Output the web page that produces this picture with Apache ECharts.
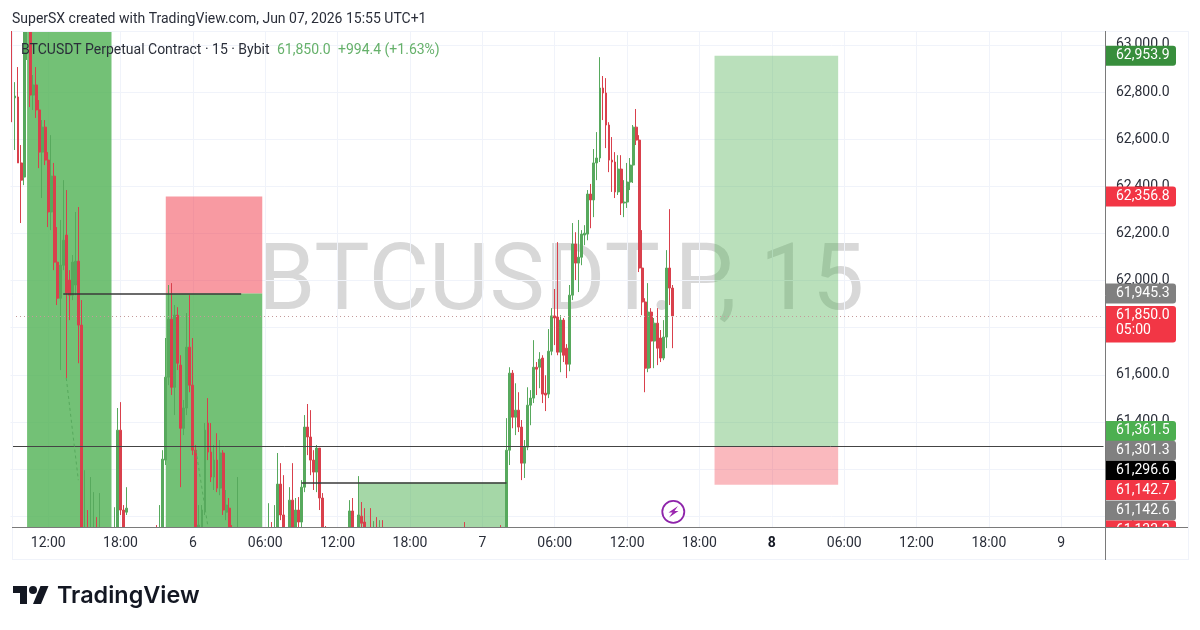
<!DOCTYPE html>
<html>
<head>
<meta charset="utf-8">
<title>BTCUSDT.P 15m</title>
<script src="https://cdn.jsdelivr.net/npm/echarts@6/dist/echarts.min.js"></script>
<style>html,body{margin:0;padding:0;background:#fff}#chart{width:1200px;height:630px}</style>
</head>
<body>
<div id="chart"></div>
<script>
// 15-minute candles, oldest first, starting Jun 5 09:00
const opens = [
63106,62775,62779,62499,62439,63080,63097,62787,62830,62724,
62545,62651,62511,62291,62443,62078,61925,62065,62193,62002,
61938,61981,62082,61811,60898,60898,60864,60877,60898,60877,
60877,60898,60877,60898,60877,60898,61365,61026,61017,60920,
60877,60907,60864,60847,60877,60907,60898,60907,60920,60898,
60920,61238,61590,61836,61547,61853,61641,61373,61459,61717,
61556,61280,60898,60898,61026,61395,61272,61166,61238,61119,
61268,61017,61034,60920,60877,60898,60920,60877,60856,60877,
60907,60898,60920,60877,60907,60920,60941,60920,60898,61136,
61005,60877,60920,61068,60898,61026,60975,61123,61378,61336,
61238,61187,61289,61077,60898,60877,60907,60898,60877,60898,
60920,60898,60898,61022,60898,60898,61000,60975,60898,60920,
60898,60920,60898,60920,60898,60907,60877,60856,60877,60898,
60885,60864,60898,60920,60898,60877,60907,60885,60920,60898,
60932,60907,60877,60898,60920,60898,60885,60907,60898,60920,
60907,60898,60920,60898,60907,60920,60907,60885,60898,60920,
60907,60932,60920,60898,60898,61280,61607,61420,61450,61378,
61225,61293,61471,61501,61632,61632,61671,61522,61518,61700,
61850,61845,61696,61832,61713,61645,61938,62155,62074,62099,
62193,62197,62367,62342,62499,62520,62817,62796,62660,62511,
62503,62376,62473,62329,62333,62418,62490,62651,62596,62053,
61909,61628,61866,61743,61819,61756,61671,61760,62053,61968
];
const highs = [
63106,62842,62906,62575,63106,63114,63114,62872,62906,62766,
62681,62681,62545,62617,62499,62227,62257,62426,62384,62044,
62108,62291,62312,61917,61195,61026,61166,61102,60996,61098,
60932,60920,60920,60932,61038,61459,61484,61047,61123,60932,
60920,60932,60898,60907,60920,60932,60932,60941,60962,61047,
61280,61756,61981,61989,61896,61887,61683,61493,61862,61938,
61756,61302,61047,61047,61395,61501,61395,61302,61352,61323,
61280,61111,61077,60962,60920,61166,60941,60907,60898,60920,
60932,60941,60941,60920,60941,61055,60975,61047,61268,61225,
61174,60941,61123,61225,61077,61081,61153,61429,61476,61450,
61280,61302,61289,61098,60958,60920,60932,60920,60920,60932,
60941,60932,61068,61077,60941,61170,61060,61034,60941,61034,
60979,60996,60983,60983,60932,60941,60907,60898,60920,60932,
60920,60907,60941,60941,60920,60920,60932,60932,60941,60941,
60945,60920,60907,60932,60941,60920,60932,60932,60941,60945,
60975,60932,60941,60932,60941,60945,60932,60920,60932,60941,
60941,60945,60962,60941,61416,61632,61620,61564,61526,61408,
61323,61547,61535,61747,61654,61696,61683,61598,61794,61883,
61964,62163,61853,61841,61730,61981,62244,62205,62257,62214,
62235,62384,62410,62558,62630,62948,62868,62859,62672,62609,
62545,62532,62532,62426,62499,62520,62660,62728,62617,62214,
61925,61989,61883,61841,61883,61790,61832,62129,62303,61981
];
const lows = [
62672,62554,62499,62244,62405,62936,62736,62724,62690,62477,
62350,62490,62227,62214,62044,61896,61620,62044,61586,61832,
61917,61938,61649,60856,60877,60835,60847,60856,60856,60856,
60847,60856,60856,60864,60856,60877,61005,60877,61005,60864,
60847,60856,60835,60835,60864,60877,60864,60877,60864,60877,
60898,61217,61556,61514,61429,61620,61123,61344,61429,61526,
61259,60877,60877,60877,61005,61238,61145,61111,61102,61089,
61005,60983,60877,60856,60856,60877,60864,60847,60835,60864,
60877,60877,60864,60856,60877,60898,60898,60898,60877,60983,
60877,60856,60898,60877,60877,60953,60953,61102,61259,61174,
61111,61102,61026,60877,60856,60864,60877,60856,60864,60877,
60877,60877,60877,60864,60877,60877,60941,60877,60877,60877,
60877,60877,60877,60877,60877,60864,60847,60847,60864,60877,
60856,60847,60877,60885,60864,60856,60877,60864,60877,60885,
60898,60864,60856,60877,60885,60877,60864,60885,60877,60898,
60885,60877,60885,60864,60885,60898,60877,60864,60885,60898,
60885,60907,60898,60885,60877,61217,61373,61344,61357,61153,
61162,61280,61386,61480,61514,61543,61480,61446,61501,61683,
61726,61683,61611,61654,61586,61615,61917,62002,61951,62065,
62150,62171,62222,62269,62426,62503,62681,62562,62460,62376,
62350,62363,62278,62269,62308,62384,62414,62575,62036,61853,
61526,61611,61628,61628,61641,61654,61662,61713,61896,61713
];
const closes = [
62779,62783,62499,62426,63084,63097,62787,62830,62724,62545,
62651,62511,62291,62443,62078,61925,62065,62171,61947,61938,
62078,62082,61811,60898,60920,60856,60898,60907,60877,60907,
60898,60877,60898,60877,60898,61365,61026,60898,61034,60877,
60907,60864,60847,60898,60907,60898,60907,60920,60898,60920,
61242,61590,61836,61547,61853,61649,61373,61459,61717,61556,
61280,60898,60962,61026,61365,61272,61166,61238,61119,61268,
61026,61047,60898,60877,60898,60920,60877,60856,60877,60907,
60898,60920,60877,60907,60920,60941,60920,60941,61136,61005,
60898,60920,61068,60898,61026,60975,61123,61378,61336,61238,
61187,61289,61077,60898,60877,60907,60898,60877,60898,60920,
60898,60907,61022,60898,60920,61005,60970,60898,60920,60898,
60920,60898,60920,60898,60907,60877,60856,60877,60898,60885,
60864,60898,60920,60898,60877,60907,60885,60920,60898,60932,
60907,60877,60898,60920,60898,60885,60907,60898,60920,60907,
60898,60920,60898,60907,60920,60907,60885,60898,60920,60907,
60932,60920,60907,60920,61280,61607,61420,61450,61378,61225,
61293,61471,61501,61632,61624,61666,61518,61514,61700,61850,
61841,61696,61832,61683,61645,61938,62155,62074,62099,62197,
62201,62367,62342,62499,62520,62817,62796,62660,62511,62503,
62376,62473,62329,62333,62418,62490,62651,62596,62053,61909,
61628,61866,61743,61819,61713,61671,61760,62053,61968,61850
];

// Position and range drawings: bar indexes and prices
const zoneStart  = [5, 51, 51, 115, 233, 233];
const zoneEnd    = [33, 83, 83, 164, 274, 274];
const zoneTop    = [63059, 62356.8, 61945.3, 61142.7, 62953.9, 61296.6];
const zoneBottom = [60954, 61945.3, 60954, 60954, 61296.6, 61133.2];

// Price tags on the right-hand scale
const tagPrices = [62953.9, 62356.8, 61945.3, 61850.0, 61361.5, 61301.3, 61296.6, 61142.7, 61142.6, 61133.2];

// Axis settings
const priceMin = 60954, priceMax = 63059;
const priceTicks = [61000, 61200, 61400, 61600, 61800, 62000, 62200, 62400, 62600, 62800, 63000];
const priceLabels = [61000, 61200, 61400, 61600, 62000, 62200, 62400, 62600, 62800, 63000];
const barCount = 363;
const startHour = 9, firstDay = 5;
const emphasisedDay = '8';
const lastPrice = 61850.0;
const countdown = '05:00';

const categories = [];
for (let i = 0; i < barCount; i++) {
  const q = startHour * 4 + i;
  const h = Math.floor(q / 4) % 24, m = (q % 4) * 15;
  const d = firstDay + Math.floor(q / 96);
  categories.push(d + ' ' + String(h).padStart(2, '0') + ':' + String(m).padStart(2, '0'));
}
const isSixHour = (i) => (i - 12) % 24 === 0;

const GREEN = '#57a95d', RED = '#d9404c';
const zoneColors = ['rgba(76,175,80,.78)', 'rgba(242,54,69,.5)', 'rgba(76,175,80,.78)',
                    'rgba(76,175,80,.5)', 'rgba(76,175,80,.39)', 'rgba(242,54,69,.35)'];
const tagColors = ['#388e3c', '#f23645', '#808080', '#f23645', '#4caf50', '#808080', '#000000', '#f23645', '#808080', '#f23645'];
// vertical shift of stacked tags so their text stays readable
const tagShift = [0, 0, 0, 0, 0, 5.5, 24.5, 7.5, 28, 45.7];

const fmt = (v) => v.toLocaleString('en-US', { minimumFractionDigits: 1, maximumFractionDigits: 1 });
const candleData = opens.map((o, i) => [o, closes[i], lows[i], highs[i]]);

const chart = echarts.init(document.getElementById('chart'), null, { renderer: 'canvas' });

const hLine = (from, to, price, color, width, type) => [
  { coord: [categories[from], price], lineStyle: { color, width, type } },
  { coord: [categories[to], price] }
];
const segment = (a, pa, b, pb) => [
  { coord: [categories[a], pa], lineStyle: { color: GREEN, width: 1, type: [3, 3] } },
  { coord: [categories[b], pb] }
];

const textEl = (text, x, y, size, fill, extra) => ({
  type: 'text', z: 30, silent: true,
  style: Object.assign({ text, x, y, fill, font: size + 'px Roboto', textVerticalAlign: 'middle' }, extra || {})
});
const lineEl = (x1, y1, x2, y2, stroke, z) => ({
  type: 'line', z: z === undefined ? 25 : z, silent: true,
  shape: { x1, y1, x2, y2 }, style: { stroke, lineWidth: 1 }
});

chart.setOption({
  animation: false,
  backgroundColor: '#ffffff',
  grid: { left: 10.5, top: 31, width: 1094.5, height: 496 },
  xAxis: [
    {
      // Carries the series and the vertical grid
      type: 'category',
      data: categories,
      boundaryGap: true,
      axisLine: { show: false },
      axisTick: { show: false },
      axisLabel: { show: false },
      splitLine: {
        show: true,
        alignWithLabel: true,
        interval: (i) => isSixHour(i),
        lineStyle: { color: '#f0f3fa', width: 1 }
      }
    },
    {
      // Time labels, kept above the plot masks
      type: 'category',
      data: categories,
      position: 'bottom',
      z: 50,
      boundaryGap: true,
      axisLine: { show: false },
      axisTick: { show: false },
      splitLine: { show: false },
      axisLabel: {
        interval: (i) => isSixHour(i),
        margin: 9,
        fontFamily: 'Roboto',
        fontSize: 14,
        color: '#2a2e39',
        formatter: (v) => {
          const [d, t] = v.split(' ');
          if (t !== '00:00') return t;
          return d === emphasisedDay ? '{day|' + d + '}' : d;
        },
        rich: { day: { fontFamily: 'Roboto', fontSize: 14, fontWeight: 700, color: '#131722' } }
      }
    }
  ],
  yAxis: {
    type: 'value',
    position: 'right',
    min: priceMin,
    max: priceMax,
    axisLine: { show: false },
    axisTick: { show: false, customValues: priceTicks },
    splitLine: { show: true, lineStyle: { color: '#f0f3fa', width: 1 } },
    axisLabel: {
      customValues: priceLabels,
      margin: 11,
      fontFamily: 'Roboto',
      fontSize: 14,
      color: '#2a2e39',
      formatter: (v) => fmt(v)
    }
  },
  series: [
    {
      // Long/short position boxes and the level lines
      type: 'line',
      data: [],
      silent: true,
      z: 1,
      markArea: {
        silent: true,
        data: zoneStart.map((s, i) => [
          { coord: [categories[s], zoneTop[i]], itemStyle: { color: zoneColors[i] } },
          { coord: [categories[zoneEnd[i]], zoneBottom[i]] }
        ])
      },
      markLine: {
        silent: true,
        symbol: 'none',
        label: { show: false },
        data: [
          hLine(0, barCount - 1, lastPrice, '#c49a9a', 1, [1, 3]),
          hLine(0, barCount - 1, tagPrices[6], '#444444', 1, 'solid'),
          hLine(17, 76, tagPrices[2], '#3a3a3a', 1.5, 'solid'),
          hLine(96, 164, tagPrices[8], '#3a3a3a', 1.5, 'solid'),
          segment(18, 61586, 22, 61153),
          segment(61, 61280, 65, 60954)
        ]
      }
    },
    {
      type: 'candlestick',
      data: candleData,
      barWidth: 2.4,
      z: 3,
      silent: true,
      itemStyle: {
        color: GREEN, color0: RED,
        borderColor: GREEN, borderColor0: RED,
        borderWidth: 1
      }
    },
    {
      // Price tags on the scale; they follow the y axis but sit outside the plot
      type: 'custom',
      coordinateSystem: 'cartesian2d',
      silent: true,
      clip: false,
      z: 10,
      data: tagPrices.map((p) => [0, p]),
      renderItem: (params, api) => {
        const i = params.dataIndex;
        const price = api.value(1);
        const cy = api.coord([0, price])[1] + tagShift[i];
        const two = price === lastPrice;
        const top = cy - 10;
        const h = two ? 36.5 : 20;
        const kids = [
          { type: 'rect', shape: { x: 1105.5, y: top, width: 70.5, height: h, r: [0, 3, 3, 0] }, style: { fill: tagColors[i] } },
          { type: 'text', style: { text: fmt(price), x: 1116, y: cy, fill: '#fff', font: '14px Roboto', textVerticalAlign: 'middle' } }
        ];
        if (two) kids.push({ type: 'text', style: { text: countdown, x: 1116, y: cy + 15, fill: '#fff', font: '14px Roboto', textVerticalAlign: 'middle' } });
        return { type: 'group', children: kids };
      }
    }
  ],
  graphic: {
    elements: [
      // Symbol watermark behind the series
      { type: 'text', z: 0, silent: true,
        style: { text: 'BTCUSDT.P, 15', x: 561, y: 286, fill: '#d8d8d8', font: '93px Roboto', textAlign: 'center', textVerticalAlign: 'middle' } },
      // Masks keep wicks and the lowest tag inside the plot height
      { type: 'rect', z: 20, silent: true, shape: { x: 0, y: 527.5, width: 1105, height: 40 }, style: { fill: '#ffffff' } },
      { type: 'rect', z: 20, silent: true, shape: { x: 0, y: 15, width: 1105, height: 16 }, style: { fill: '#ffffff' } },
      { type: 'rect', z: 20, silent: true, shape: { x: 1105.5, y: 527.5, width: 72, height: 30 }, style: { fill: '#ffffff' } },
      // Chart frame and scale separators
      lineEl(12, 31.5, 1188, 31.5, '#f0f3fa'),
      lineEl(12, 559.5, 1188, 559.5, '#f0f3fa'),
      lineEl(12.5, 31, 12.5, 560, '#f0f3fa'),
      lineEl(1188.5, 31, 1188.5, 560, '#f0f3fa'),
      lineEl(12, 527.5, 1188, 527.5, '#7a7a7a'),
      lineEl(1105.5, 31, 1105.5, 560, '#7a7a7a'),
      // Header and symbol legend
      textEl('SuperSX created with TradingView.com, Jun 07, 2026 15:55 UTC+1', 12, 19, 14, '#2a2e39'),
      textEl('BTCUSDT Perpetual Contract · 15 · Bybit', 21, 50, 14, '#2a2e39'),
      textEl('61,850.0', 277, 50, 14, '#66b16b'),
      textEl('+994.4 (+1.63%)', 338, 50, 14, '#66b16b'),
      // Event badge
      { type: 'circle', z: 25, silent: true, shape: { cx: 673.3, cy: 511.8, r: 11 }, style: { fill: '#ffffff', stroke: '#8e24aa', lineWidth: 1.8 } },
      { type: 'polygon', z: 26, silent: true,
        shape: { points: [[678, 506], [668.5, 512.5], [672.5, 512.5], [669, 517.5], [678.5, 511], [674.5, 511]] },
        style: { fill: '#9c27b0' } },
      // Brand mark
      { type: 'polygon', z: 30, silent: true, shape: { points: [[13, 586], [27, 586], [27, 604], [20, 604], [20, 593], [13, 593]] }, style: { fill: '#131722' } },
      { type: 'circle', z: 30, silent: true, shape: { cx: 33, cy: 590, r: 4 }, style: { fill: '#131722' } },
      { type: 'polygon', z: 30, silent: true, shape: { points: [[40.5, 586], [48.5, 586], [41, 604], [33, 604]] }, style: { fill: '#131722' } },
      textEl('TradingView', 57, 596, 25, '#131722', { font: '600 23.4px Inter' })
    ]
  }
});
</script>
</body>
</html>
